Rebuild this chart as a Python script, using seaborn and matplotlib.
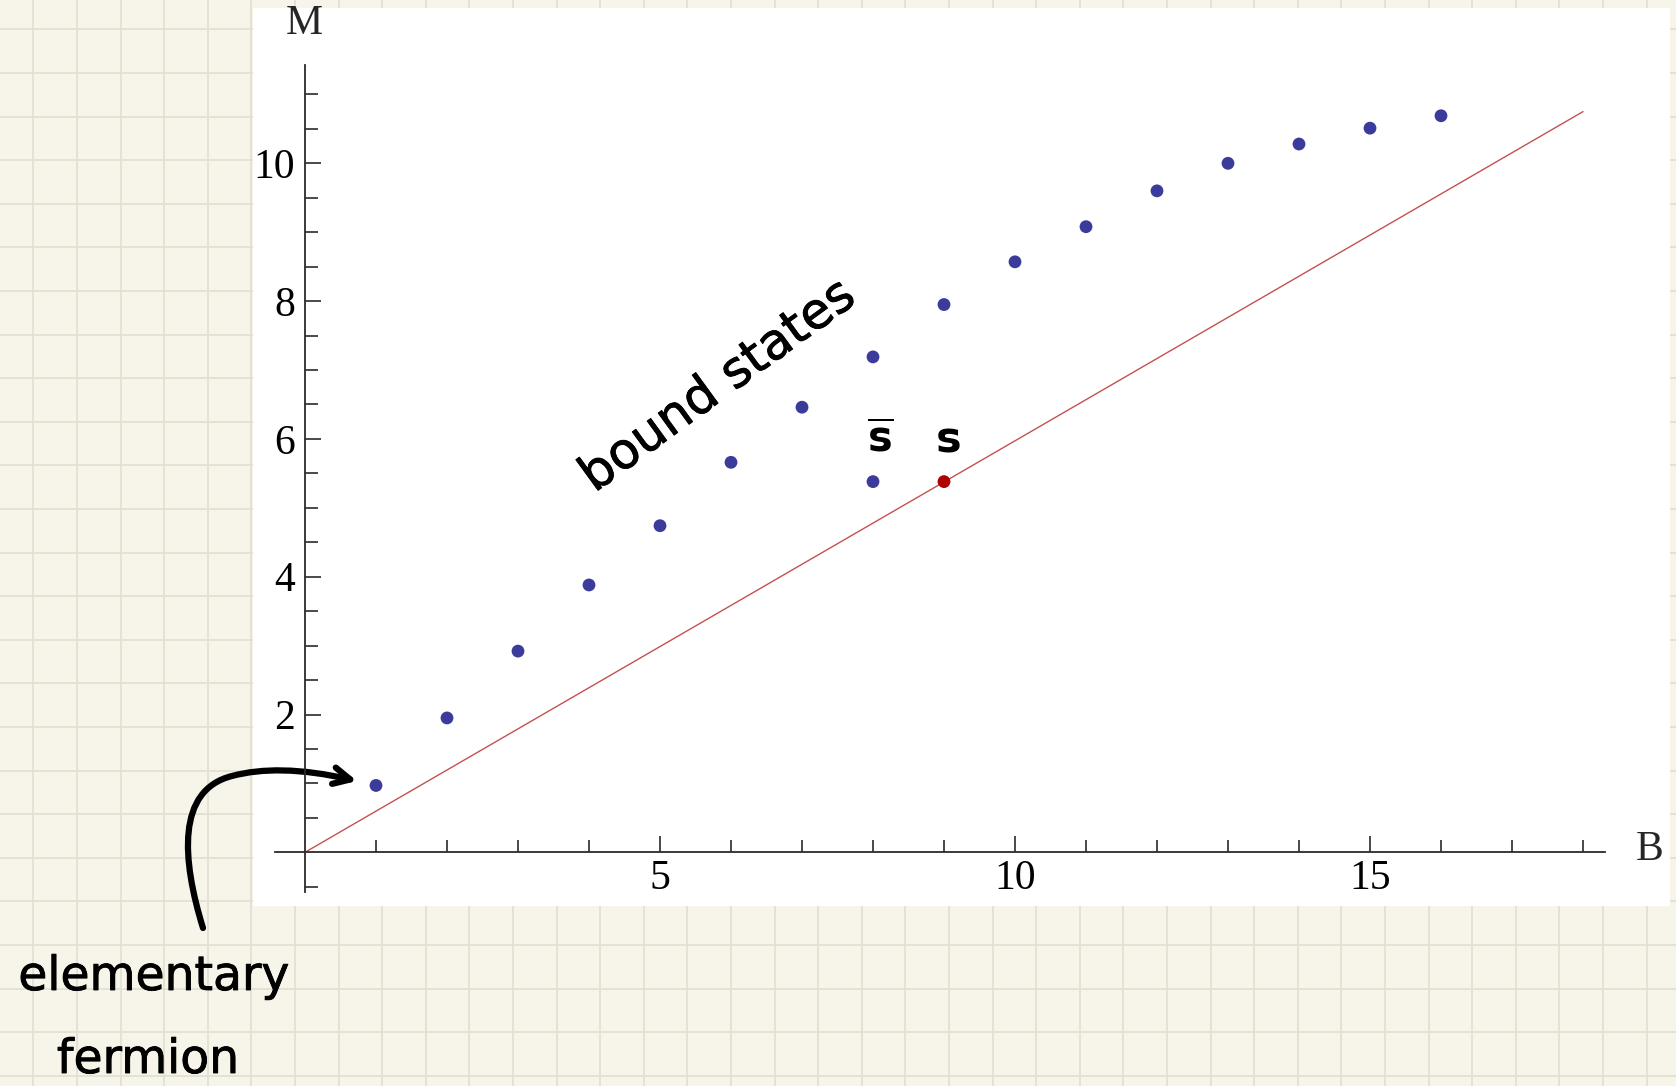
import numpy as np
import pandas as pd
import seaborn as sns
import matplotlib.pyplot as plt
from matplotlib.patches import Rectangle, FancyArrowPatch
from matplotlib.path import Path
from matplotlib.ticker import FixedLocator, NullFormatter
import matplotlib.patheffects as pe

# data
B_bound = [1, 2, 3, 4, 5, 6, 7, 8, 9, 10, 11, 12, 13, 14, 15, 16]
M_bound = [0.97, 1.95, 2.92, 3.88, 4.74, 5.66, 6.46, 7.19, 7.95, 8.57, 9.08, 9.60, 10.0, 10.28, 10.51, 10.69]
B_sbar = [8]
M_sbar = [5.38]
B_s = [9]
M_s = [5.38]
B_line = [0, 18]
M_line = [0, 10.75]

x_major = [5, 10, 15]
y_major = [2, 4, 6, 8, 10]

W, H = 1676, 1086
blue = '#3b3b9c'
red_line = '#c65050'
red_dot = '#b00000'
cream = '#f7f5e9'

sns.set_style('white')
plt.rcParams['font.family'] = ['Liberation Serif', 'DejaVu Serif']
plt.rcParams['mathtext.fontset'] = 'dejavusans'

fig = plt.figure(figsize=(W / 100, H / 100), dpi=100)
fig.patch.set_facecolor(cream)

# notebook paper background + white panel (pixel coords, origin top-left)
bg = fig.add_axes([0, 0, 1, 1], zorder=0)
bg.set_xlim(0, W)
bg.set_ylim(H, 0)
bg.axis('off')
bg.vlines(np.arange(33.3, W, 43.6), 0, H, color='#e2e0d3', lw=1.3)
bg.hlines(np.arange(29.3, H, 43.6), 0, W, color='#e2e0d3', lw=1.3)
bg.add_patch(Rectangle((253, 8), 1417, 898, facecolor='white', edgecolor='none', zorder=2))

# main plot, axes through the origin
xlim = (-0.42, 18.31)
ylim = (-0.58, 11.42)
x0, xs = 305, 71.0
y0, ys = 852.3, 68.9
left = x0 + xlim[0] * xs
right = x0 + xlim[1] * xs
bottom = y0 - ylim[0] * ys
top = y0 - ylim[1] * ys
ax = fig.add_axes([left / W, 1 - bottom / H, (right - left) / W, (bottom - top) / H], zorder=1)
ax.patch.set_alpha(0)

df_bound = pd.DataFrame({'B': B_bound, 'M': M_bound})
df_line = pd.DataFrame({'B': B_line, 'M': M_line})

sns.lineplot(data=df_line, x='B', y='M', color=red_line, lw=1.0, ax=ax, zorder=2)
sns.scatterplot(data=df_bound, x='B', y='M', color=blue, s=85, edgecolor='none', ax=ax, zorder=3)
sns.scatterplot(x=B_sbar, y=M_sbar, color=blue, s=85, edgecolor='none', ax=ax, zorder=3)
sns.scatterplot(x=B_s, y=M_s, color=red_dot, s=85, edgecolor='none', ax=ax, zorder=3)

ax.set_xlim(*xlim)
ax.set_ylim(*ylim)
ax.set_xlabel('')
ax.set_ylabel('')
for side in ['top', 'right']:
    ax.spines[side].set_visible(False)
for side in ['left', 'bottom']:
    ax.spines[side].set_position(('data', 0))
    ax.spines[side].set_color('#2a2a2a')
    ax.spines[side].set_linewidth(1.3)

ax.xaxis.set_major_locator(FixedLocator(x_major))
ax.xaxis.set_minor_locator(FixedLocator([v for v in range(1, 19) if v not in x_major]))
y_minor = [v for v in np.arange(-0.5, 11.01, 0.5) if v not in y_major and v != 0]
ax.yaxis.set_major_locator(FixedLocator(y_major))
ax.yaxis.set_minor_locator(FixedLocator(y_minor))
ax.xaxis.set_minor_formatter(NullFormatter())
ax.yaxis.set_minor_formatter(NullFormatter())
ax.tick_params(axis='both', which='both', direction='in', color='#2a2a2a', width=1.2,
               labelsize=30, labelcolor='black')
ax.tick_params(axis='x', which='major', length=11.5, pad=5)
ax.tick_params(axis='x', which='minor', length=8.5)
ax.tick_params(axis='y', which='major', length=11.5, pad=7)
ax.tick_params(axis='y', which='minor', length=9.3)
ax.tick_params(left=True, bottom=True, which='both')

fig.text(304.6 / W, 1 - 24 / H, 'M', fontsize=30, ha='center', va='center')
fig.text(1650 / W, 1 - 850 / H, 'B', fontsize=30, ha='center', va='center')

# handwritten notes
hand = dict(family=['DejaVu Sans'], color='black',
            path_effects=[pe.withStroke(linewidth=0.6, foreground='black')])
ax.text(5.82, 6.77, 'bound states', fontsize=36, rotation=36, rotation_mode='anchor',
        ha='center', va='center', **hand)
ax.text(8.1, 5.97, r'$\overline{\mathbf{s}}$', fontsize=30, ha='center', va='center', color='black')
ax.text(9.06, 5.98, 's', fontsize=31, fontweight='bold', ha='center', va='center',
        family=['DejaVu Sans'], color='black')
fig.text(154 / W, 1 - 990 / H, 'elementary', fontsize=34, ha='center', va='baseline', **hand)
fig.text(148 / W, 1 - 1073 / H, 'fermion', fontsize=34, ha='center', va='baseline', **hand)

# hand-drawn arrow, pixel coords of the background axes
arrow_path = Path(
    [(203, 928), (182, 860), (176, 790), (232, 776),
     (262, 768), (300, 768), (357, 781)],
    [Path.MOVETO, Path.CURVE4, Path.CURVE4, Path.CURVE4,
     Path.CURVE4, Path.CURVE4, Path.CURVE4])
bg.add_patch(FancyArrowPatch(path=arrow_path, arrowstyle='->', mutation_scale=30,
                             lw=4.5, color='black', zorder=6, clip_on=False))

fig.savefig('out.png', dpi=100, facecolor=fig.get_facecolor())
